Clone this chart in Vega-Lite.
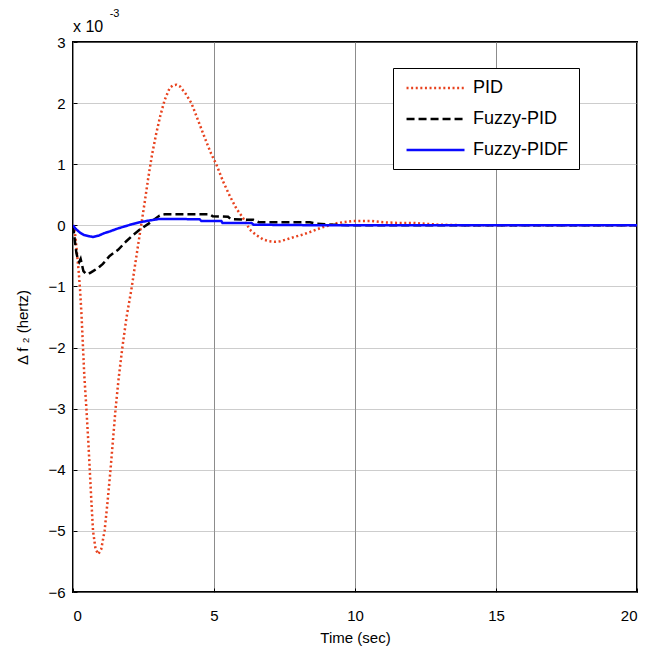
{
  "$schema": "https://vega.github.io/schema/vega-lite/v6.json",
  "autosize": "none",
  "width": 564,
  "height": 550,
  "padding": {"left": 73, "top": 42, "right": 17, "bottom": 59},
  "background": "white",
  "config": {
    "view": {"stroke": "black", "strokeWidth": 2},
    "axis": {
      "domain": false,
      "labelFont": "Liberation Sans",
      "labelFontSize": 15,
      "labelColor": "black",
      "titleFont": "Liberation Sans",
      "titleFontSize": 15,
      "titleFontWeight": "normal",
      "titleColor": "black",
      "tickColor": "black",
      "tickSize": -4,
      "tickWidth": 1,
      "grid": true
    }
  },
  "data": {
    "values": [
      {"t": 0, "v": 0, "s": "PID"},
      {"t": 0.05, "v": -0.05, "s": "PID"},
      {"t": 0.1, "v": -0.25, "s": "PID"},
      {"t": 0.15, "v": -0.5, "s": "PID"},
      {"t": 0.2, "v": -0.75, "s": "PID"},
      {"t": 0.25, "v": -1.05, "s": "PID"},
      {"t": 0.3, "v": -1.45, "s": "PID"},
      {"t": 0.35, "v": -1.95, "s": "PID"},
      {"t": 0.4, "v": -2.45, "s": "PID"},
      {"t": 0.475, "v": -3.0, "s": "PID"},
      {"t": 0.55, "v": -3.6, "s": "PID"},
      {"t": 0.6, "v": -4.05, "s": "PID"},
      {"t": 0.65, "v": -4.5, "s": "PID"},
      {"t": 0.71, "v": -5.0, "s": "PID"},
      {"t": 0.8, "v": -5.3, "s": "PID"},
      {"t": 0.9, "v": -5.38, "s": "PID"},
      {"t": 1.0, "v": -5.3, "s": "PID"},
      {"t": 1.12, "v": -5.0, "s": "PID"},
      {"t": 1.22, "v": -4.55, "s": "PID"},
      {"t": 1.33, "v": -4.0, "s": "PID"},
      {"t": 1.42, "v": -3.5, "s": "PID"},
      {"t": 1.51, "v": -3.0, "s": "PID"},
      {"t": 1.62, "v": -2.5, "s": "PID"},
      {"t": 1.75, "v": -2.0, "s": "PID"},
      {"t": 1.9, "v": -1.5, "s": "PID"},
      {"t": 2.07, "v": -1.05, "s": "PID"},
      {"t": 2.25, "v": -0.5, "s": "PID"},
      {"t": 2.43, "v": 0.04, "s": "PID"},
      {"t": 2.55, "v": 0.4, "s": "PID"},
      {"t": 2.66, "v": 0.75, "s": "PID"},
      {"t": 2.8, "v": 1.15, "s": "PID"},
      {"t": 2.95, "v": 1.5, "s": "PID"},
      {"t": 3.1, "v": 1.8, "s": "PID"},
      {"t": 3.25, "v": 2.05, "s": "PID"},
      {"t": 3.43, "v": 2.25, "s": "PID"},
      {"t": 3.55, "v": 2.29, "s": "PID"},
      {"t": 3.67, "v": 2.3, "s": "PID"},
      {"t": 3.8, "v": 2.27, "s": "PID"},
      {"t": 4.0, "v": 2.15, "s": "PID"},
      {"t": 4.2, "v": 2.0, "s": "PID"},
      {"t": 4.45, "v": 1.7, "s": "PID"},
      {"t": 4.7, "v": 1.4, "s": "PID"},
      {"t": 4.9, "v": 1.17, "s": "PID"},
      {"t": 5.08, "v": 1.0, "s": "PID"},
      {"t": 5.32, "v": 0.72, "s": "PID"},
      {"t": 5.56, "v": 0.48, "s": "PID"},
      {"t": 5.8, "v": 0.27, "s": "PID"},
      {"t": 6.03, "v": 0.12, "s": "PID"},
      {"t": 6.27, "v": -0.07, "s": "PID"},
      {"t": 6.5, "v": -0.16, "s": "PID"},
      {"t": 6.74, "v": -0.23, "s": "PID"},
      {"t": 6.95, "v": -0.26, "s": "PID"},
      {"t": 7.15, "v": -0.27, "s": "PID"},
      {"t": 7.35, "v": -0.26, "s": "PID"},
      {"t": 7.57, "v": -0.23, "s": "PID"},
      {"t": 7.85, "v": -0.19, "s": "PID"},
      {"t": 8.16, "v": -0.15, "s": "PID"},
      {"t": 8.4, "v": -0.11, "s": "PID"},
      {"t": 8.63, "v": -0.07, "s": "PID"},
      {"t": 8.85, "v": -0.03, "s": "PID"},
      {"t": 9.1, "v": 0.0, "s": "PID"},
      {"t": 9.4, "v": 0.04, "s": "PID"},
      {"t": 9.9, "v": 0.07, "s": "PID"},
      {"t": 10.3, "v": 0.07, "s": "PID"},
      {"t": 10.6, "v": 0.07, "s": "PID"},
      {"t": 11.0, "v": 0.05, "s": "PID"},
      {"t": 11.5, "v": 0.04, "s": "PID"},
      {"t": 12.05, "v": 0.04, "s": "PID"},
      {"t": 13, "v": 0.01, "s": "PID"},
      {"t": 14, "v": 0, "s": "PID"},
      {"t": 20, "v": 0, "s": "PID"},
      {"t": 0, "v": 0, "s": "Fuzzy-PID"},
      {"t": 0.06, "v": -0.23, "s": "Fuzzy-PID"},
      {"t": 0.12, "v": -0.45, "s": "Fuzzy-PID"},
      {"t": 0.17, "v": -0.55, "s": "Fuzzy-PID"},
      {"t": 0.22, "v": -0.6, "s": "Fuzzy-PID"},
      {"t": 0.27, "v": -0.55, "s": "Fuzzy-PID"},
      {"t": 0.32, "v": -0.65, "s": "Fuzzy-PID"},
      {"t": 0.37, "v": -0.75, "s": "Fuzzy-PID"},
      {"t": 0.47, "v": -0.8, "s": "Fuzzy-PID"},
      {"t": 0.6, "v": -0.78, "s": "Fuzzy-PID"},
      {"t": 0.71, "v": -0.75, "s": "Fuzzy-PID"},
      {"t": 0.88, "v": -0.7, "s": "Fuzzy-PID"},
      {"t": 1.06, "v": -0.63, "s": "Fuzzy-PID"},
      {"t": 1.3, "v": -0.5, "s": "Fuzzy-PID"},
      {"t": 1.6, "v": -0.4, "s": "Fuzzy-PID"},
      {"t": 1.89, "v": -0.26, "s": "Fuzzy-PID"},
      {"t": 2.1, "v": -0.17, "s": "Fuzzy-PID"},
      {"t": 2.37, "v": -0.07, "s": "Fuzzy-PID"},
      {"t": 2.72, "v": 0.04, "s": "Fuzzy-PID"},
      {"t": 3.07, "v": 0.16, "s": "Fuzzy-PID"},
      {"t": 3.25, "v": 0.18, "s": "Fuzzy-PID"},
      {"t": 4.85, "v": 0.18, "s": "Fuzzy-PID"},
      {"t": 4.95, "v": 0.15, "s": "Fuzzy-PID"},
      {"t": 5.5, "v": 0.14, "s": "Fuzzy-PID"},
      {"t": 5.6, "v": 0.1, "s": "Fuzzy-PID"},
      {"t": 6.4, "v": 0.09, "s": "Fuzzy-PID"},
      {"t": 6.6, "v": 0.05, "s": "Fuzzy-PID"},
      {"t": 8.4, "v": 0.05, "s": "Fuzzy-PID"},
      {"t": 8.6, "v": 0.03, "s": "Fuzzy-PID"},
      {"t": 9.2, "v": 0.01, "s": "Fuzzy-PID"},
      {"t": 10, "v": 0, "s": "Fuzzy-PID"},
      {"t": 20, "v": 0, "s": "Fuzzy-PID"},
      {"t": 0, "v": 0, "s": "Fuzzy-PIDF"},
      {"t": 0.1, "v": -0.06, "s": "Fuzzy-PIDF"},
      {"t": 0.25, "v": -0.12, "s": "Fuzzy-PIDF"},
      {"t": 0.4, "v": -0.16, "s": "Fuzzy-PIDF"},
      {"t": 0.59, "v": -0.18, "s": "Fuzzy-PIDF"},
      {"t": 0.71, "v": -0.19, "s": "Fuzzy-PIDF"},
      {"t": 0.9, "v": -0.17, "s": "Fuzzy-PIDF"},
      {"t": 1.1, "v": -0.13, "s": "Fuzzy-PIDF"},
      {"t": 1.3, "v": -0.1, "s": "Fuzzy-PIDF"},
      {"t": 1.6, "v": -0.05, "s": "Fuzzy-PIDF"},
      {"t": 1.89, "v": -0.01, "s": "Fuzzy-PIDF"},
      {"t": 2.1, "v": 0.02, "s": "Fuzzy-PIDF"},
      {"t": 2.37, "v": 0.05, "s": "Fuzzy-PIDF"},
      {"t": 2.72, "v": 0.08, "s": "Fuzzy-PIDF"},
      {"t": 3.07, "v": 0.105, "s": "Fuzzy-PIDF"},
      {"t": 4.49, "v": 0.1, "s": "Fuzzy-PIDF"},
      {"t": 4.55, "v": 0.07, "s": "Fuzzy-PIDF"},
      {"t": 5.26, "v": 0.07, "s": "Fuzzy-PIDF"},
      {"t": 5.3, "v": 0.04, "s": "Fuzzy-PIDF"},
      {"t": 6.33, "v": 0.04, "s": "Fuzzy-PIDF"},
      {"t": 6.4, "v": 0.01, "s": "Fuzzy-PIDF"},
      {"t": 9, "v": 0, "s": "Fuzzy-PIDF"},
      {"t": 20, "v": 0, "s": "Fuzzy-PIDF"}
    ]
  },
  "layer": [
    {
      "mark": {"type": "line", "strokeWidth": 2.5, "strokeCap": "butt", "clip": true},
      "encoding": {
        "x": {
          "field": "t",
          "type": "quantitative",
          "scale": {"domain": [0, 20], "nice": false, "zero": false},
          "axis": {
            "title": "Time (sec)",
            "values": [0, 5, 10, 15, 20],
            "format": "d",
            "labelPadding": 20,
            "gridColor": "#8c8c8c",
            "gridWidth": 1,
            "titleBaseline": "middle",
            "titleY": 45
          }
        },
        "y": {
          "field": "v",
          "type": "quantitative",
          "scale": {"domain": [-6, 3], "nice": false, "zero": false},
          "axis": {
            "title": "Δ f ₂ (hertz)",
            "values": [-6, -5, -4, -3, -2, -1, 0, 1, 2, 3],
            "format": "d",
            "labelPadding": 12,
            "gridColor": "#9a9a9a",
            "gridDash": [1, 1],
            "titleBaseline": "middle",
            "titleX": -51,
            "titleY": 285
          }
        },
        "color": {
          "field": "s",
          "type": "nominal",
          "scale": {"domain": ["PID", "Fuzzy-PID", "Fuzzy-PIDF"], "range": ["#e8421e", "#000000", "#0a0aff"]},
          "legend": {
            "title": null,
            "orient": "none",
            "legendX": 320,
            "legendY": 26,
            "direction": "vertical",
            "fillColor": "white",
            "strokeColor": "black",
            "padding": 10,
            "labelFont": "Liberation Sans",
            "labelFontSize": 18,
            "labelColor": "black",
            "labelOffset": 50,
            "symbolType": "M-0.76,0H6.06",
            "symbolSize": 289,
            "symbolStrokeWidth": 2.5,
            "rowPadding": 12
          }
        },
        "strokeDash": {
          "field": "s",
          "type": "nominal",
          "scale": {"domain": ["PID", "Fuzzy-PID", "Fuzzy-PIDF"], "range": [[2, 2.6], [8, 4], [1, 0]]},
          "legend": {
            "title": null,
            "orient": "none",
            "legendX": 320,
            "legendY": 26,
            "direction": "vertical",
            "fillColor": "white",
            "strokeColor": "black",
            "padding": 10,
            "labelFont": "Liberation Sans",
            "labelFontSize": 18,
            "labelColor": "black",
            "labelOffset": 50,
            "symbolType": "M-0.76,0H6.06",
            "symbolSize": 289,
            "symbolStrokeWidth": 2.5,
            "rowPadding": 12
          }
        }
      }
    },
    {
      "data": {"values": [{}]},
      "mark": {"type": "text", "align": "left", "baseline": "alphabetic", "font": "Liberation Sans", "fontSize": 16, "color": "black"},
      "encoding": {
        "x": {"datum": 0, "type": "quantitative"},
        "y": {"datum": 3.164, "type": "quantitative"},
        "text": {"value": "x 10"}
      }
    },
    {
      "data": {"values": [{}]},
      "mark": {"type": "text", "align": "left", "baseline": "alphabetic", "font": "Liberation Sans", "fontSize": 11, "color": "black"},
      "encoding": {
        "x": {"datum": 1.3, "type": "quantitative"},
        "y": {"datum": 3.41, "type": "quantitative"},
        "text": {"value": "-3"}
      }
    }
  ]
}
